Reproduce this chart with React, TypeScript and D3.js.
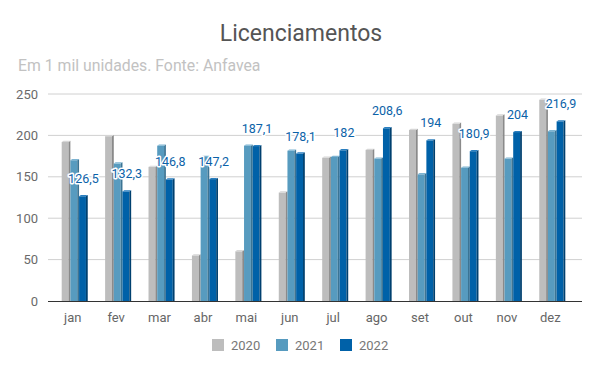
import React, { useRef, useEffect } from 'react';
import * as d3 from 'd3';

const months = ['jan', 'fev', 'mar', 'abr', 'mai', 'jun', 'jul', 'ago', 'set', 'out', 'nov', 'dez'];
const series = ['2020', '2021', '2022'];
const v2020 = [192, 199, 162, 55, 60, 131, 173, 182.5, 206.5, 214, 224, 243];
const v2021 = [170, 166, 187.5, 174, 187.6, 181.5, 174, 172, 153, 161, 172, 205];
const v2022 = [126.5, 132.3, 146.8, 147.2, 187.1, 178.1, 182, 208.6, 194, 180.9, 204, 216.9];
const yTicks = [0, 50, 100, 150, 200, 250];

const colors = ['#bdbdbd', '#579bbf', '#0061a8'];
const sideColors = ['#8a8a8a', '#3b7494', '#00406f'];
const topColors = ['#d6d6d6', '#7db4d2', '#2a7fc0'];

const fmt = (v: number) => String(v).replace('.', ',');

const App = () => {
  const ref = useRef<SVGSVGElement>(null);

  useEffect(() => {
    const svg = d3.select(ref.current);
    svg.selectAll('*').remove();
    const font = 'Roboto, sans-serif';

    const left = 48, right = 582, top = 94, bottom = 301;

    const y = d3.scaleLinear().domain([0, 250]).range([bottom, top]);
    const x0 = d3.scaleBand().domain(months).range([46.5, 580.5]).paddingInner(0.4).paddingOuter(0.35);
    const x1 = d3.scaleBand().domain(series).range([0, x0.bandwidth()]);

    svg.append('text')
      .attr('x', 301).attr('y', 41)
      .attr('text-anchor', 'middle')
      .attr('font-family', font).attr('font-size', 23)
      .attr('fill', '#555').text('Licenciamentos');

    svg.append('text')
      .attr('x', 18).attr('y', 71)
      .attr('font-family', font).attr('font-size', 15.8)
      .attr('fill', '#c2c2c2').text('Em 1 mil unidades. Fonte: Anfavea');

    // grid
    svg.append('g').selectAll('line')
      .data(yTicks.filter(t => t > 0))
      .enter().append('line')
      .attr('x1', left).attr('x2', right)
      .attr('y1', d => y(d)).attr('y2', d => y(d))
      .attr('stroke', '#d0d0d0').attr('stroke-width', 1);

    svg.append('g').selectAll('text')
      .data(yTicks)
      .enter().append('text')
      .attr('x', 38).attr('y', d => y(d) + 4.5)
      .attr('text-anchor', 'end')
      .attr('font-family', font).attr('font-size', 13)
      .attr('fill', '#6a6a6a').text(d => d);

    const values = [v2020, v2021, v2022];
    const side = 1.8;
    const barW = x1.bandwidth() - side;

    months.forEach((m, i) => {
      const g = svg.append('g').attr('transform', `translate(${x0(m)},0)`);
      series.forEach((s, k) => {
        const v = values[k][i];
        const bx = x1(s)!;
        const by = y(v);
        g.append('rect')
          .attr('x', bx).attr('y', by)
          .attr('width', barW).attr('height', bottom - by)
          .attr('fill', colors[k]);
        g.append('path')
          .attr('d', `M${bx + barW},${by} L${bx + barW + side},${by - 1.2} L${bx + barW + side},${bottom} L${bx + barW},${bottom} Z`)
          .attr('fill', sideColors[k]);
        g.append('path')
          .attr('d', `M${bx},${by} L${bx + side},${by - 1.2} L${bx + barW + side},${by - 1.2} L${bx + barW},${by} Z`)
          .attr('fill', topColors[k]);
      });
    });

    // baseline
    svg.append('line')
      .attr('x1', left).attr('x2', right)
      .attr('y1', bottom + 0.5).attr('y2', bottom + 0.5)
      .attr('stroke', '#333').attr('stroke-width', 1);

    // value labels for 2022
    svg.append('g').selectAll('text')
      .data(months)
      .enter().append('text')
      .attr('x', (m) => x0(m)! + x1('2022')! + x1.bandwidth() / 2)
      .attr('y', (m, i) => y(v2022[i]) - 13)
      .attr('text-anchor', 'middle')
      .attr('font-family', font).attr('font-size', 12.5)
      .attr('fill', '#0b62a8')
      .attr('stroke', '#fff').attr('stroke-width', 3)
      .attr('stroke-linejoin', 'round')
      .attr('paint-order', 'stroke')
      .text((m, i) => fmt(v2022[i]));

    svg.append('g').selectAll('text')
      .data(months)
      .enter().append('text')
      .attr('x', m => x0(m)! + x0.bandwidth() / 2 - 2)
      .attr('y', 322)
      .attr('text-anchor', 'middle')
      .attr('font-family', font).attr('font-size', 13)
      .attr('fill', '#666').text(d => d);

    // legend
    const legendX = [212, 276, 340];
    series.forEach((s, k) => {
      svg.append('rect')
        .attr('x', legendX[k]).attr('y', 339)
        .attr('width', 12).attr('height', 12)
        .attr('fill', colors[k]);
      svg.append('text')
        .attr('x', legendX[k] + 19).attr('y', 350)
        .attr('font-family', font).attr('font-size', 13)
        .attr('fill', '#777').text(s);
    });
  }, []);

  return <svg ref={ref} width={600} height={371} style={{ position: 'absolute', left: 0, top: 0, background: '#fff' }}></svg>;
};

export default App;
